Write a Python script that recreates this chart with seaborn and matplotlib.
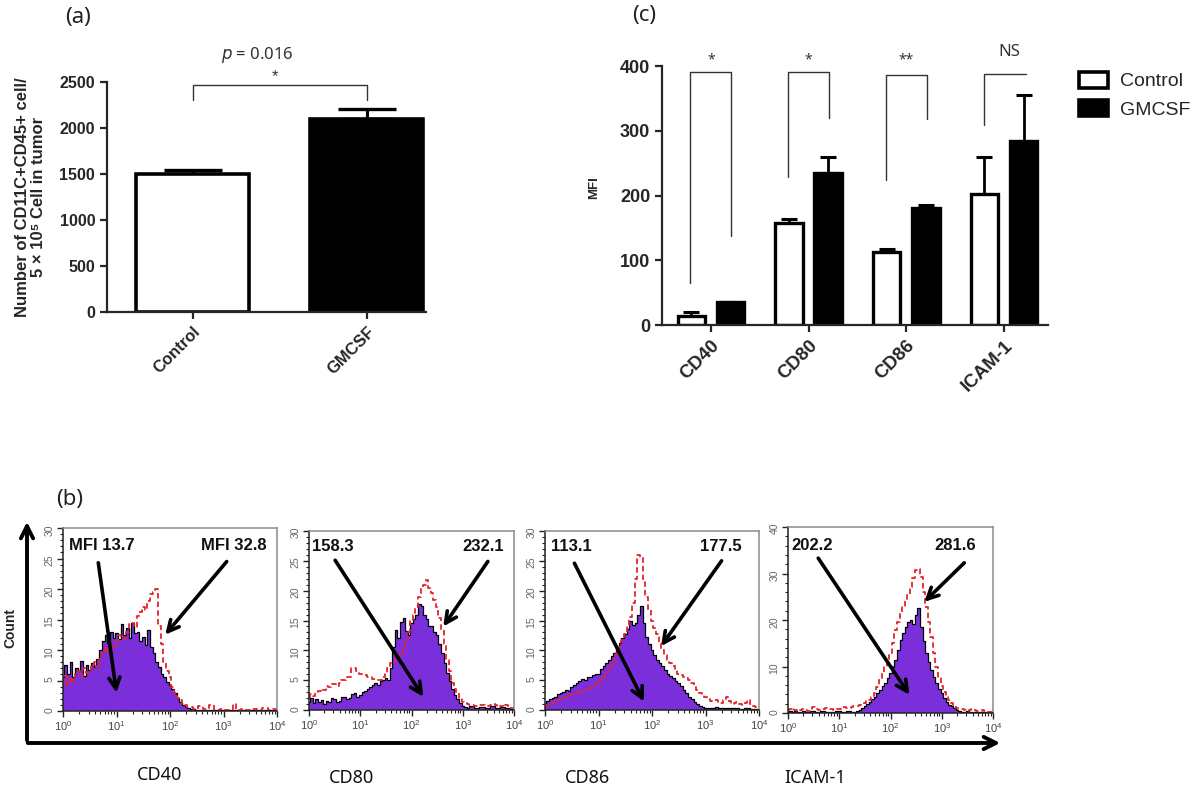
import numpy as np
import pandas as pd
import matplotlib.pyplot as plt
import seaborn as sns
from matplotlib.patches import FancyArrowPatch, Patch
from matplotlib.ticker import MultipleLocator, LogLocator, NullFormatter

# ---- panel (a): CD11c+CD45+ cells per 5x10^5 tumour cells
groups = ['Control', 'GMCSF']
dc_count = [1500, 2100]
dc_sem = [43, 105]
p_text = r'$p$ = 0.016'

# ---- panel (c): MFI of activation markers
markers = ['CD40', 'CD80', 'CD86', 'ICAM-1']
mfi_control = [14, 158, 113, 202]
mfi_gmcsf = [35, 235, 180, 284]
sem_control = [6, 6, 5, 58]
sem_gmcsf = [1, 25, 6, 71]
sig_labels = ['*', '*', '**', 'NS']

# ---- panel (b): flow histograms, counts per 0.05 decade bin (10^0 .. 10^4)
log_bins = np.linspace(0, 4, 81)
cd40_ctrl = [5.6, 7.5, 6.0, 8.0, 5.5, 7.0, 6.5, 8.2, 5.8, 7.5,
             6.8, 7.8, 7.2, 8.6, 10.0, 11.5, 12.5, 11.2, 13.0, 12.0,
             12.8, 11.8, 14.2, 12.5, 13.6, 12.0, 14.5, 12.8, 13.0, 11.5,
             12.2, 10.8, 13.2, 10.5, 9.5, 8.0, 7.2, 6.0, 5.5, 4.8,
             4.2, 3.6, 3.0, 2.2, 1.5, 1.0, 0.6, 0.5, 0.3, 0.4,
             0.2, 0.2, 0.1, 0.2, 0.1, 0.1, 0.2, 0.1, 0.1, 0.1,
             0.2, 0.1, 0.1, 0.1, 0.1, 0.1, 0.1, 0.1, 0.1, 0.1,
             0.1, 0.1, 0.1, 0.1, 0.1, 0.1, 0.1, 0.1, 0.1, 0.1,
             0.1]
cd40_gm = [4.5, 5.8, 4.2, 5.5, 5.0, 6.2, 6.5, 5.8, 7.0, 6.2,
           6.5, 7.5, 8.0, 7.2, 8.5, 9.5, 10.5, 9.8, 11.0, 10.5,
           11.5, 12.5, 12.0, 11.8, 13.0, 14.2, 14.5, 13.8, 15.5, 16.2,
           17.0, 16.5, 18.0, 19.2, 19.5, 20.0, 14.0, 11.0, 8.0, 6.5,
           5.5, 4.0, 3.0, 2.2, 1.8, 1.2, 1.0, 0.6, 0.6, 0.3,
           0.3, 0.8, 0.8, 0.3, 0.3, 1.0, 1.0, 0.2, 0.2, 0.3,
           0.3, 0.2, 0.2, 0.3, 1.2, 0.2, 0.2, 0.3, 0.3, 0.2,
           0.2, 0.4, 0.4, 0.2, 0.2, 0.5, 0.5, 0.2, 0.2, 0.3,
           0.2]
cd80_ctrl = [1.4, 2.0, 1.2, 1.8, 1.3, 1.6, 1.0, 1.5, 1.3, 2.0,
             1.8, 1.4, 1.5, 2.2, 2.2, 1.8, 2.0, 2.6, 2.8, 2.2,
             2.5, 3.0, 3.2, 3.6, 3.8, 4.2, 4.6, 4.2, 4.8, 5.0,
             5.3, 5.0, 7.0, 10.5, 13.4, 12.0, 14.8, 15.5, 13.2, 12.5,
             14.5, 15.2, 16.0, 17.8, 17.5, 16.0, 15.2, 14.0, 14.0, 13.0,
             12.5, 11.0, 9.5, 7.8, 6.2, 4.8, 3.5, 2.5, 1.8, 1.2,
             0.7, 0.5, 0.4, 0.6, 0.6, 0.3, 0.3, 0.5, 0.5, 0.3,
             0.3, 0.6, 0.6, 0.3, 0.3, 0.5, 0.5, 0.3, 0.3, 0.2,
             0.2]
cd80_gm = [2.2, 2.6, 2.4, 3.0, 3.2, 3.5, 3.3, 4.0, 3.8, 4.3,
           4.3, 4.0, 4.5, 5.0, 5.0, 5.6, 5.6, 7.0, 7.0, 6.5,
           6.0, 5.8, 5.8, 5.5, 5.5, 5.2, 5.2, 5.0, 5.0, 5.5,
           6.0, 7.0, 7.8, 8.0, 8.4, 9.0, 9.5, 10.5, 11.7, 13.0,
           15.0, 16.0, 17.3, 19.0, 20.5, 21.0, 21.8, 20.5, 19.6, 18.5,
           17.3, 15.5, 13.4, 11.0, 8.4, 6.5, 4.5, 3.5, 2.8, 2.0,
           1.4, 1.2, 1.0, 0.9, 0.8, 0.7, 0.6, 0.9, 0.9, 0.6,
           0.6, 0.8, 1.0, 0.8, 0.5, 0.7, 1.0, 0.8, 0.4, 0.4,
           0.3]
cd86_ctrl = [1.1, 1.5, 1.8, 2.0, 2.2, 2.6, 2.8, 3.0, 3.4, 3.2,
             3.8, 4.2, 4.5, 4.8, 5.2, 5.0, 5.6, 5.5, 5.8, 6.0,
             6.1, 6.8, 7.3, 7.8, 8.4, 9.0, 9.5, 10.2, 11.2, 12.0,
             12.8, 13.5, 15.0, 14.2, 14.5, 16.0, 17.5, 14.5, 12.3, 11.0,
             10.0, 9.2, 8.4, 7.8, 7.3, 6.7, 6.1, 5.7, 5.3, 4.9,
             4.5, 4.0, 3.4, 2.8, 2.2, 1.8, 1.4, 1.0, 0.6, 0.5,
             0.4, 0.3, 0.3, 0.4, 0.5, 0.3, 0.3, 0.4, 0.4, 0.3,
             0.3, 0.3, 0.3, 0.2, 0.2, 0.3, 0.3, 0.2, 0.2, 0.2,
             0.2]
cd86_gm = [0.6, 0.8, 1.0, 1.2, 1.4, 1.6, 1.8, 2.0, 2.2, 2.4,
           2.5, 2.6, 2.8, 3.0, 3.1, 3.3, 3.4, 3.7, 4.0, 4.2,
           4.5, 5.0, 5.5, 6.1, 6.7, 7.5, 8.4, 9.5, 10.6, 11.7,
           12.8, 14.2, 15.6, 18.0, 22.0, 26.0, 25.5, 22.0, 19.0, 17.0,
           15.0, 13.8, 12.8, 11.2, 10.0, 9.2, 8.4, 7.8, 7.3, 6.7,
           6.1, 5.8, 5.6, 5.3, 5.0, 4.5, 3.9, 3.4, 2.8, 2.5,
           2.2, 1.8, 1.5, 1.6, 1.7, 1.4, 1.2, 1.7, 2.2, 1.5,
           1.0, 1.2, 1.4, 1.0, 0.8, 1.2, 1.7, 1.0, 0.6, 0.5,
           0.4]
icam_ctrl = [0.3, 0.5, 0.2, 0.4, 0.3, 0.2, 0.5, 0.3, 0.2, 0.4,
             0.5, 0.3, 0.2, 0.4, 0.4, 0.3, 0.3, 0.2, 0.3, 0.4,
             0.4, 0.3, 0.3, 0.5, 0.5, 0.3, 0.3, 0.5, 0.6, 1.0,
             1.4, 1.9, 2.4, 3.0, 3.5, 4.2, 5.0, 5.7, 6.4, 7.5,
             8.5, 10.0, 11.4, 13.5, 15.7, 17.2, 18.6, 19.5, 20.0, 19.2,
             21.0, 22.5, 18.6, 15.5, 12.8, 11.0, 9.2, 7.8, 6.4, 5.2,
             4.2, 3.2, 2.4, 1.8, 1.4, 1.0, 0.6, 0.4, 0.3, 0.3,
             0.4, 0.3, 0.2, 0.3, 0.3, 0.2, 0.2, 0.3, 0.2, 0.2,
             0.2]
icam_gm = [0.6, 0.8, 1.0, 0.6, 0.5, 0.7, 0.8, 0.6, 0.4, 0.8,
           1.2, 0.8, 0.6, 0.7, 0.8, 1.0, 1.0, 0.8, 0.7, 0.8,
           0.8, 1.0, 1.2, 1.1, 1.0, 1.2, 1.4, 1.5, 1.7, 2.0,
           2.2, 2.5, 2.8, 3.4, 4.2, 5.5, 7.0, 8.5, 10.0, 11.5,
           12.8, 15.0, 17.8, 19.5, 21.4, 23.0, 24.3, 25.5, 27.2, 29.0,
           30.8, 31.0, 29.3, 26.0, 22.9, 19.5, 16.4, 13.0, 10.0, 7.8,
           5.7, 4.5, 3.5, 2.8, 2.1, 1.5, 1.0, 0.9, 0.8, 0.6,
           0.5, 0.7, 0.9, 0.6, 0.4, 0.5, 0.7, 0.5, 0.3, 0.3,
           0.2]
hist_ctrl = [cd40_ctrl, cd80_ctrl, cd86_ctrl, icam_ctrl]
hist_gm = [cd40_gm, cd80_gm, cd86_gm, icam_gm]
hist_mfi_ctrl = [13.7, 158.3, 113.1, 202.2]
hist_mfi_gm = [32.8, 232.1, 177.5, 281.6]
hist_ymax = [30, 30, 30, 40]

W, H = 1200, 788
PURPLE = '#7B2FDB'
RED = '#E5232B'

sns.set_style('ticks')
plt.rcParams['font.family'] = ['Liberation Sans', 'DejaVu Sans']
plt.rcParams['axes.linewidth'] = 1.6

fig = plt.figure(figsize=(12, 7.88), dpi=100)


def px_box(left, right, bottom, top):
    return [left / W, 1 - bottom / H, (right - left) / W, (bottom - top) / H]


# ================= panel (a)
ax_a = fig.add_axes(px_box(107, 426, 312, 82))
df_a = pd.DataFrame({'group': groups, 'count': dc_count})
sns.barplot(data=df_a, x='group', y='count', hue='group',
            palette={'Control': 'white', 'GMCSF': 'black'},
            edgecolor='black', linewidth=2.6, width=0.65,
            errorbar=None, legend=False, ax=ax_a)
for bar, e in zip(ax_a.patches, dc_sem):
    cx = bar.get_x() + bar.get_width() / 2
    ax_a.errorbar(cx, bar.get_height(), yerr=[[0], [e]], fmt='none',
                  ecolor='black', elinewidth=2.2, capsize=21, capthick=2.4, zorder=0)
ax_a.set_xlim(-0.494, 1.34)
ax_a.set_ylim(0, 2500)
ax_a.yaxis.set_major_locator(MultipleLocator(500))
sns.despine(ax=ax_a)
ax_a.tick_params(axis='both', width=1.6, length=5, labelsize=11.5)
for lbl in ax_a.get_yticklabels():
    lbl.set_fontweight('bold')
ax_a.set_xticks(range(len(groups)))
ax_a.set_xticklabels(groups, rotation=45, ha='right', rotation_mode='anchor',
                     fontweight='bold', fontsize=12)
ax_a.set_xlabel('')
ax_a.set_ylabel('Number of CD11C+CD45+ cell/\n5 × 10⁵ Cell in tumor',
                fontsize=12, fontweight='bold', linespacing=1.15)
ax_a.yaxis.set_label_coords(-0.19, 0.5)
# significance bracket
ax_a.plot([0, 0, 1, 1], [2300, 2465, 2465, 2300], color='#333333', lw=1, clip_on=False)
ax_a.text(0.47, 2560, '*', ha='center', va='center', fontsize=12, color='#333333')
ax_a.text(0.37, 2790, p_text, ha='center', va='center', fontsize=12,
          color='#333333', family='Noto Sans')

# ================= panel (c)
ax_c = fig.add_axes(px_box(662, 1048, 325, 66))
df_c = pd.DataFrame({'marker': markers * 2,
                     'mfi': mfi_control + mfi_gmcsf,
                     'group': ['Control'] * len(markers) + ['GMCSF'] * len(markers)})
sns.barplot(data=df_c, x='marker', y='mfi', hue='group',
            palette={'Control': 'white', 'GMCSF': 'black'},
            width=0.8, gap=0.3, edgecolor='black', linewidth=2.4,
            errorbar=None, legend=False, ax=ax_c)
for cont, errs in zip(ax_c.containers, [sem_control, sem_gmcsf]):
    for bar, e in zip(cont, errs):
        cx = bar.get_x() + bar.get_width() / 2
        ax_c.errorbar(cx, bar.get_height(), yerr=[[0], [e]], fmt='none',
                      ecolor='black', elinewidth=2.0, capsize=6, capthick=2.2, zorder=0)
ax_c.set_xlim(-0.5, 3.45)
ax_c.set_ylim(0, 400)
ax_c.yaxis.set_major_locator(MultipleLocator(100))
sns.despine(ax=ax_c)
ax_c.tick_params(axis='both', width=1.6, length=5, labelsize=13)
for lbl in ax_c.get_yticklabels():
    lbl.set_fontweight('bold')
ax_c.set_xticks(range(len(markers)))
ax_c.set_xticklabels(markers, rotation=45, ha='right', rotation_mode='anchor',
                     fontweight='bold', fontsize=13.5)
ax_c.set_xlabel('')
ax_c.set_ylabel('MFI', fontsize=9.5, fontweight='bold')
ax_c.yaxis.set_label_coords(-0.16, 0.53)

# brackets: (top, left leg end, right leg end)
brackets = [(390, 65, 137), (391, 229, 320), (386, 224, 318), (388, 309, None)]
for i, (top, lo_l, lo_r) in enumerate(brackets):
    if lo_r is None:
        xs, ys = [i - 0.2, i - 0.2, i + 0.22], [lo_l, top, top]
    else:
        xs, ys = [i - 0.21, i - 0.21, i + 0.21, i + 0.21], [lo_l, top, top, lo_r]
    ax_c.plot(xs, ys, color='#333333', lw=1, clip_on=False)
    sig_y = 422 if sig_labels[i] == 'NS' else 409
    ax_c.text(i + (0.05 if sig_labels[i] == 'NS' else 0), sig_y, sig_labels[i],
              ha='center', va='center', fontsize=12 if sig_labels[i] == 'NS' else 10,
              color='#333333', family='Noto Sans')

fig.legend(handles=[Patch(facecolor='white', edgecolor='black', lw=2.6, label='Control'),
                    Patch(facecolor='black', edgecolor='black', lw=2.6, label='GMCSF')],
           loc='upper left', bbox_to_anchor=(1079 / W, 1 - 72 / H), frameon=False,
           fontsize=14, handlelength=1.5, handleheight=0.85, labelspacing=0.5,
           handletextpad=0.6, borderpad=0, borderaxespad=0)

# ================= panel (b)
hist_boxes = [(63, 277, 711, 528), (309, 514, 710, 531),
              (545, 759, 710, 531), (788, 993, 713, 527)]
# arrow tail -> head, in (log10 intensity, count)
arrows_ctrl = [((0.66, 24.3), (1.0, 3.0)), ((0.51, 25.1), (2.23, 2.2)),
               ((0.55, 24.6), (1.85, 1.4)), ((0.59, 33.3), (2.37, 3.9))]
arrows_gm = [((3.06, 24.5), (1.91, 12.5)), ((3.49, 24.9), (2.62, 14.0)),
             ((3.30, 25.0), (2.17, 10.7)), ((3.44, 32.3), (2.66, 23.9))]
text_ctrl_x = [0.11, 0.05, 0.12, 0.07]
text_gm_x = [3.81, 3.80, 3.67, 3.66]
text_y = [27.2, 27.4, 27.4, 36.1]
xs = 10 ** log_bins

for k in range(4):
    ax = fig.add_axes(px_box(*hist_boxes[k]))
    ax.fill_between(xs, hist_ctrl[k], step='mid', color=PURPLE, lw=0)
    ax.step(xs, hist_ctrl[k], where='mid', color='black', lw=0.9)
    ax.step(xs, hist_gm[k], where='mid', color=RED, lw=1.3, dashes=(3, 1.8))
    ax.set_xscale('log')
    ax.set_xlim(1, 1e4)
    ax.set_ylim(0, hist_ymax[k])
    ax.yaxis.set_major_locator(MultipleLocator(5 if hist_ymax[k] == 30 else 10))
    ax.yaxis.set_minor_locator(MultipleLocator(1 if hist_ymax[k] == 30 else 2))
    ax.xaxis.set_major_locator(LogLocator(base=10, numticks=6))
    ax.xaxis.set_minor_locator(LogLocator(base=10, subs=np.arange(2, 10), numticks=20))
    ax.xaxis.set_minor_formatter(NullFormatter())
    ax.tick_params(which='major', length=4, width=1, labelsize=8, colors='#222222',
                   labelcolor='#444444', pad=2)
    ax.tick_params(which='minor', length=2.5, width=0.8, colors='#222222')
    ax.tick_params(axis='y', labelrotation=90, labelsize=7.5, labelcolor='#666666')
    for side in ['left', 'bottom']:
        ax.spines[side].set_linewidth(1.1)
        ax.spines[side].set_color('#222222')
    for side in ['top', 'right']:
        ax.spines[side].set_linewidth(1.1)
        ax.spines[side].set_color('#8a8a8a')
    prefix = 'MFI ' if k == 0 else ''
    ax.text(10 ** text_ctrl_x[k], text_y[k], f'{prefix}{hist_mfi_ctrl[k]}', ha='left',
            va='center', fontsize=12, fontweight='bold', color='#111111')
    ax.text(10 ** text_gm_x[k], text_y[k], f'{prefix}{hist_mfi_gm[k]}', ha='right',
            va='center', fontsize=12, fontweight='bold', color='#111111')
    for (t, h) in [arrows_ctrl[k], arrows_gm[k]]:
        ax.annotate('', xy=(10 ** h[0], h[1]), xytext=(10 ** t[0], t[1]),
                    arrowprops=dict(arrowstyle='->', lw=2.6, color='black',
                                    mutation_scale=20, shrinkA=0, shrinkB=0))

# big Count / intensity axes of panel (b)
fig.add_artist(FancyArrowPatch((27 / W, 1 - 743 / H), (27 / W, 1 - 519 / H),
                               transform=fig.transFigure, arrowstyle='->',
                               mutation_scale=22, lw=2.8, color='black'))
fig.add_artist(FancyArrowPatch((25 / W, 1 - 743 / H), (1003 / W, 1 - 743 / H),
                               transform=fig.transFigure, arrowstyle='->',
                               mutation_scale=22, lw=2.8, color='black'))
fig.text(10 / W, 1 - 628 / H, 'Count', rotation=90, ha='center', va='center',
         fontsize=10, fontweight='bold')
for name, cx, cy in zip(markers, [160, 352, 588, 815], [775, 778, 778, 778]):
    fig.text(cx / W, 1 - cy / H, name, ha='center', va='center', fontsize=13,
             family='Noto Sans', color='#111111')

# panel letters
for letter, cx, cy in [('(a)', 78, 17), ('(c)', 644, 16), ('(b)', 70, 500)]:
    fig.text(cx / W, 1 - cy / H, letter, ha='center', va='center', fontsize=16,
             family='Noto Sans', color='#222222')

fig.savefig('out.png', dpi=100)
